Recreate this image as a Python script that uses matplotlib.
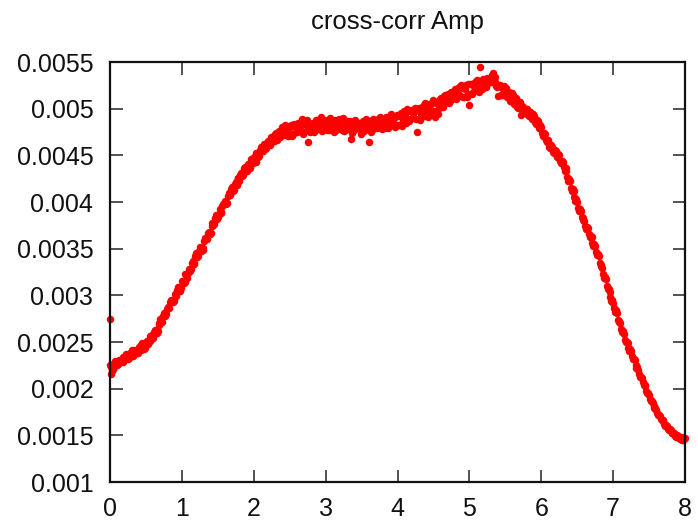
import matplotlib
matplotlib.use("Agg")
import matplotlib.pyplot as plt

# ---- data ----
# first sweep of samples
x_vals = [
    0.000, 0.025, 0.050, 0.075, 0.100, 0.125, 0.150, 0.175,
    0.200, 0.225, 0.250, 0.275, 0.300, 0.325, 0.350, 0.375,
    0.400, 0.425, 0.450, 0.475, 0.500, 0.525, 0.550, 0.575,
    0.600, 0.625, 0.650, 0.675, 0.700, 0.725, 0.750, 0.775,
    0.800, 0.825, 0.850, 0.875, 0.900, 0.925, 0.950, 0.975,
    1.000, 1.025, 1.050, 1.075, 1.100, 1.125, 1.150, 1.175,
    1.200, 1.225, 1.250, 1.275, 1.300, 1.325, 1.350, 1.375,
    1.400, 1.425, 1.450, 1.475, 1.500, 1.525, 1.550, 1.575,
    1.600, 1.625, 1.650, 1.675, 1.700, 1.725, 1.750, 1.775,
    1.800, 1.825, 1.850, 1.875, 1.900, 1.925, 1.950, 1.975,
    2.000, 2.025, 2.050, 2.075, 2.100, 2.125, 2.150, 2.175,
    2.200, 2.225, 2.250, 2.275, 2.300, 2.325, 2.350, 2.375,
    2.400, 2.425, 2.450, 2.475, 2.500, 2.525, 2.550, 2.575,
    2.600, 2.625, 2.650, 2.675, 2.700, 2.725, 2.750, 2.775,
    2.800, 2.825, 2.850, 2.875, 2.900, 2.925, 2.950, 2.975,
    3.000, 3.025, 3.050, 3.075, 3.100, 3.125, 3.150, 3.175,
    3.200, 3.225, 3.250, 3.275, 3.300, 3.325, 3.350, 3.375,
    3.400, 3.425, 3.450, 3.475, 3.500, 3.525, 3.550, 3.575,
    3.600, 3.625, 3.650, 3.675, 3.700, 3.725, 3.750, 3.775,
    3.800, 3.825, 3.850, 3.875, 3.900, 3.925, 3.950, 3.975,
    4.000, 4.025, 4.050, 4.075, 4.100, 4.125, 4.150, 4.175,
    4.200, 4.225, 4.250, 4.275, 4.300, 4.325, 4.350, 4.375,
    4.400, 4.425, 4.450, 4.475, 4.500, 4.525, 4.550, 4.575,
    4.600, 4.625, 4.650, 4.675, 4.700, 4.725, 4.750, 4.775,
    4.800, 4.825, 4.850, 4.875, 4.900, 4.925, 4.950, 4.975,
    5.000, 5.025, 5.050, 5.075, 5.100, 5.125, 5.150, 5.175,
    5.200, 5.225, 5.250, 5.275, 5.300, 5.325, 5.350, 5.375,
    5.400, 5.425, 5.450, 5.475, 5.500, 5.525, 5.550, 5.575,
    5.600, 5.625, 5.650, 5.675, 5.700, 5.725, 5.750, 5.775,
    5.800, 5.825, 5.850, 5.875, 5.900, 5.925, 5.950, 5.975,
    6.000, 6.025, 6.050, 6.075, 6.100, 6.125, 6.150, 6.175,
    6.200, 6.225, 6.250, 6.275, 6.300, 6.325, 6.350, 6.375,
    6.400, 6.425, 6.450, 6.475, 6.500, 6.525, 6.550, 6.575,
    6.600, 6.625, 6.650, 6.675, 6.700, 6.725, 6.750, 6.775,
    6.800, 6.825, 6.850, 6.875, 6.900, 6.925, 6.950, 6.975,
    7.000, 7.025, 7.050, 7.075, 7.100, 7.125, 7.150, 7.175,
    7.200, 7.225, 7.250, 7.275, 7.300, 7.325, 7.350, 7.375,
    7.400, 7.425, 7.450, 7.475, 7.500, 7.525, 7.550, 7.575,
    7.600, 7.625, 7.650, 7.675, 7.700, 7.725, 7.750, 7.775,
    7.800, 7.825, 7.850, 7.875, 7.900, 7.925, 7.950, 7.975,
    8.000, 0.000, 0.010,
]

amp_vals = [
    0.00225, 0.00219, 0.00223, 0.00230, 0.00225, 0.00231, 0.00229, 0.00234,
    0.00231, 0.00237, 0.00232, 0.00238, 0.00241, 0.00235, 0.00240, 0.00238,
    0.00245, 0.00241, 0.00249, 0.00243, 0.00250, 0.00248, 0.00256, 0.00253,
    0.00254, 0.00263, 0.00260, 0.00268, 0.00275, 0.00271, 0.00281, 0.00280,
    0.00288, 0.00286, 0.00295, 0.00293, 0.00301, 0.00299, 0.00309, 0.00305,
    0.00315, 0.00313, 0.00323, 0.00319, 0.00328, 0.00328, 0.00337, 0.00334,
    0.00345, 0.00342, 0.00352, 0.00349, 0.00351, 0.00361, 0.00360, 0.00368,
    0.00367, 0.00377, 0.00376, 0.00386, 0.00384, 0.00392, 0.00389, 0.00398,
    0.00401, 0.00399, 0.00410, 0.00407, 0.00416, 0.00413, 0.00421, 0.00426,
    0.00423, 0.00431, 0.00429, 0.00437, 0.00433, 0.00441, 0.00436, 0.00445,
    0.00448, 0.00443, 0.00452, 0.00449, 0.00459, 0.00455, 0.00462, 0.00458,
    0.00465, 0.00461, 0.00470, 0.00465, 0.00473, 0.00466, 0.00476, 0.00472,
    0.00480, 0.00472, 0.00479, 0.00471, 0.00480, 0.00483, 0.00473, 0.00482,
    0.00475, 0.00485, 0.00477, 0.00489, 0.00475, 0.00483, 0.00464, 0.00485,
    0.00476, 0.00485, 0.00479, 0.00488, 0.00478, 0.00485, 0.00476, 0.00488,
    0.00480, 0.00488, 0.00477, 0.00486, 0.00481, 0.00488, 0.00477, 0.00484,
    0.00486, 0.00477, 0.00484, 0.00477, 0.00487, 0.00478, 0.00468, 0.00485,
    0.00477, 0.00486, 0.00479, 0.00484, 0.00475, 0.00487, 0.00478, 0.00483,
    0.00464, 0.00485, 0.00477, 0.00487, 0.00480, 0.00489, 0.00480, 0.00485,
    0.00487, 0.00479, 0.00490, 0.00482, 0.00492, 0.00483, 0.00490, 0.00482,
    0.00492, 0.00483, 0.00495, 0.00487, 0.00494, 0.00485, 0.00497, 0.00489,
    0.00499, 0.00490, 0.00497, 0.00475, 0.00501, 0.00494, 0.00503, 0.00492,
    0.00501, 0.00491, 0.00504, 0.00496, 0.00508, 0.00491, 0.00507, 0.00501,
    0.00511, 0.00504, 0.00514, 0.00507, 0.00516, 0.00508, 0.00517, 0.00512,
    0.00521, 0.00512, 0.00523, 0.00514, 0.00522, 0.00513, 0.00525, 0.00516,
    0.00504, 0.00526, 0.00518, 0.00529, 0.00520, 0.00528, 0.00545, 0.00521,
    0.00529, 0.00523, 0.00533, 0.00533, 0.00529, 0.00538, 0.00529, 0.00524,
    0.00514, 0.00525, 0.00515, 0.00524, 0.00521, 0.00512, 0.00518, 0.00508,
    0.00515, 0.00505, 0.00511, 0.00501, 0.00507, 0.00493, 0.00502, 0.00495,
    0.00500, 0.00492, 0.00496, 0.00489, 0.00492, 0.00484, 0.00487, 0.00479,
    0.00480, 0.00471, 0.00473, 0.00464, 0.00465, 0.00458, 0.00459, 0.00453,
    0.00455, 0.00448, 0.00450, 0.00442, 0.00443, 0.00433, 0.00433, 0.00423,
    0.00422, 0.00412, 0.00412, 0.00401, 0.00400, 0.00390, 0.00390, 0.00381,
    0.00380, 0.00371, 0.00372, 0.00362, 0.00362, 0.00353, 0.00353, 0.00343,
    0.00342, 0.00331, 0.00329, 0.00319, 0.00318, 0.00307, 0.00304, 0.00294,
    0.00292, 0.00282, 0.00281, 0.00271, 0.00270, 0.00261, 0.00259, 0.00250,
    0.00249, 0.00240, 0.00240, 0.00232, 0.00231, 0.00222, 0.00220, 0.00212,
    0.00211, 0.00204, 0.00203, 0.00195, 0.00193, 0.00187, 0.00185, 0.00179,
    0.00177, 0.00172, 0.00171, 0.00166, 0.00165, 0.00160, 0.00160, 0.00156,
    0.00156, 0.00152, 0.00152, 0.00148, 0.00149, 0.00146, 0.00147, 0.00145,
    0.00147, 0.00275, 0.00216,
]

# second, interleaved sweep of samples
x_vals_b = [
    0.0125, 0.0375, 0.0625, 0.0875, 0.1125, 0.1375, 0.1625, 0.1875,
    0.2125, 0.2375, 0.2625, 0.2875, 0.3125, 0.3375, 0.3625, 0.3875,
    0.4125, 0.4375, 0.4625, 0.4875, 0.5125, 0.5375, 0.5625, 0.5875,
    0.6125, 0.6375, 0.6625, 0.6875, 0.7125, 0.7375, 0.7625, 0.7875,
    0.8125, 0.8375, 0.8625, 0.8875, 0.9125, 0.9375, 0.9625, 0.9875,
    1.0125, 1.0375, 1.0625, 1.0875, 1.1125, 1.1375, 1.1625, 1.1875,
    1.2125, 1.2375, 1.2625, 1.2875, 1.3125, 1.3375, 1.3625, 1.3875,
    1.4125, 1.4375, 1.4625, 1.4875, 1.5125, 1.5375, 1.5625, 1.5875,
    1.6125, 1.6375, 1.6625, 1.6875, 1.7125, 1.7375, 1.7625, 1.7875,
    1.8125, 1.8375, 1.8625, 1.8875, 1.9125, 1.9375, 1.9625, 1.9875,
    2.0125, 2.0375, 2.0625, 2.0875, 2.1125, 2.1375, 2.1625, 2.1875,
    2.2125, 2.2375, 2.2625, 2.2875, 2.3125, 2.3375, 2.3625, 2.3875,
    2.4125, 2.4375, 2.4625, 2.4875, 2.5125, 2.5375, 2.5625, 2.5875,
    2.6125, 2.6375, 2.6625, 2.6875, 2.7125, 2.7375, 2.7625, 2.7875,
    2.8125, 2.8375, 2.8625, 2.8875, 2.9125, 2.9375, 2.9625, 2.9875,
    3.0125, 3.0375, 3.0625, 3.0875, 3.1125, 3.1375, 3.1625, 3.1875,
    3.2125, 3.2375, 3.2625, 3.2875, 3.3125, 3.3375, 3.3625, 3.3875,
    3.4125, 3.4375, 3.4625, 3.4875, 3.5125, 3.5375, 3.5625, 3.5875,
    3.6125, 3.6375, 3.6625, 3.6875, 3.7125, 3.7375, 3.7625, 3.7875,
    3.8125, 3.8375, 3.8625, 3.8875, 3.9125, 3.9375, 3.9625, 3.9875,
    4.0125, 4.0375, 4.0625, 4.0875, 4.1125, 4.1375, 4.1625, 4.1875,
    4.2125, 4.2375, 4.2625, 4.2875, 4.3125, 4.3375, 4.3625, 4.3875,
    4.4125, 4.4375, 4.4625, 4.4875, 4.5125, 4.5375, 4.5625, 4.5875,
    4.6125, 4.6375, 4.6625, 4.6875, 4.7125, 4.7375, 4.7625, 4.7875,
    4.8125, 4.8375, 4.8625, 4.8875, 4.9125, 4.9375, 4.9625, 4.9875,
    5.0125, 5.0375, 5.0625, 5.0875, 5.1125, 5.1375, 5.1625, 5.1875,
    5.2125, 5.2375, 5.2625, 5.2875, 5.3125, 5.3375, 5.3625, 5.3875,
    5.4125, 5.4375, 5.4625, 5.4875, 5.5125, 5.5375, 5.5625, 5.5875,
    5.6125, 5.6375, 5.6625, 5.6875, 5.7125, 5.7375, 5.7625, 5.7875,
    5.8125, 5.8375, 5.8625, 5.8875, 5.9125, 5.9375, 5.9625, 5.9875,
    6.0125, 6.0375, 6.0625, 6.0875, 6.1125, 6.1375, 6.1625, 6.1875,
    6.2125, 6.2375, 6.2625, 6.2875, 6.3125, 6.3375, 6.3625, 6.3875,
    6.4125, 6.4375, 6.4625, 6.4875, 6.5125, 6.5375, 6.5625, 6.5875,
    6.6125, 6.6375, 6.6625, 6.6875, 6.7125, 6.7375, 6.7625, 6.7875,
    6.8125, 6.8375, 6.8625, 6.8875, 6.9125, 6.9375, 6.9625, 6.9875,
    7.0125, 7.0375, 7.0625, 7.0875, 7.1125, 7.1375, 7.1625, 7.1875,
    7.2125, 7.2375, 7.2625, 7.2875, 7.3125, 7.3375, 7.3625, 7.3875,
    7.4125, 7.4375, 7.4625, 7.4875, 7.5125, 7.5375, 7.5625, 7.5875,
    7.6125, 7.6375, 7.6625, 7.6875, 7.7125, 7.7375, 7.7625, 7.7875,
    7.8125, 7.8375, 7.8625, 7.8875, 7.9125, 7.9375, 7.9625, 7.9875,
]

amp_vals_b = [
    0.00223, 0.00221, 0.00227, 0.00229, 0.00226, 0.00231, 0.00230, 0.00229,
    0.00235, 0.00234, 0.00233, 0.00237, 0.00236, 0.00241, 0.00241, 0.00238,
    0.00242, 0.00247, 0.00246, 0.00244, 0.00251, 0.00252, 0.00251, 0.00258,
    0.00261, 0.00260, 0.00262, 0.00270, 0.00272, 0.00278, 0.00278, 0.00285,
    0.00286, 0.00293, 0.00294, 0.00294, 0.00301, 0.00306, 0.00306, 0.00308,
    0.00315, 0.00314, 0.00323, 0.00324, 0.00326, 0.00335, 0.00335, 0.00342,
    0.00341, 0.00348, 0.00348, 0.00349, 0.00358, 0.00360, 0.00367, 0.00366,
    0.00374, 0.00375, 0.00383, 0.00382, 0.00387, 0.00388, 0.00396, 0.00398,
    0.00398, 0.00406, 0.00408, 0.00414, 0.00412, 0.00419, 0.00418, 0.00426,
    0.00429, 0.00428, 0.00436, 0.00435, 0.00434, 0.00441, 0.00446, 0.00442,
    0.00446, 0.00452, 0.00448, 0.00456, 0.00455, 0.00462, 0.00457, 0.00463,
    0.00462, 0.00470, 0.00467, 0.00465, 0.00474, 0.00473, 0.00470, 0.00480,
    0.00474, 0.00483, 0.00478, 0.00473, 0.00481, 0.00471, 0.00484, 0.00479,
    0.00485, 0.00477, 0.00482, 0.00473, 0.00484, 0.00488, 0.00479, 0.00475,
    0.00483, 0.00475, 0.00488, 0.00482, 0.00478, 0.00491, 0.00481, 0.00487,
    0.00477, 0.00485, 0.00490, 0.00480, 0.00475, 0.00487, 0.00483, 0.00489,
    0.00483, 0.00490, 0.00476, 0.00485, 0.00479, 0.00487, 0.00474, 0.00480,
    0.00488, 0.00479, 0.00485, 0.00473, 0.00482, 0.00476, 0.00489, 0.00478,
    0.00484, 0.00475, 0.00489, 0.00482, 0.00479, 0.00485, 0.00491, 0.00478,
    0.00481, 0.00491, 0.00479, 0.00488, 0.00494, 0.00485, 0.00480, 0.00493,
    0.00483, 0.00492, 0.00481, 0.00497, 0.00490, 0.00500, 0.00487, 0.00497,
    0.00491, 0.00501, 0.00489, 0.00499, 0.00488, 0.00501, 0.00496, 0.00506,
    0.00495, 0.00505, 0.00498, 0.00509, 0.00497, 0.00506, 0.00494, 0.00510,
    0.00510, 0.00502, 0.00515, 0.00509, 0.00506, 0.00518, 0.00511, 0.00519,
    0.00510, 0.00520, 0.00515, 0.00525, 0.00513, 0.00521, 0.00512, 0.00526,
    0.00526, 0.00516, 0.00524, 0.00520, 0.00531, 0.00518, 0.00529, 0.00532,
    0.00523, 0.00531, 0.00527, 0.00533, 0.00536, 0.00529, 0.00534, 0.00523,
    0.00525, 0.00515, 0.00521, 0.00515, 0.00522, 0.00514, 0.00508, 0.00517,
    0.00508, 0.00511, 0.00502, 0.00507, 0.00500, 0.00503, 0.00496, 0.00500,
    0.00493, 0.00496, 0.00491, 0.00494, 0.00486, 0.00488, 0.00481, 0.00482,
    0.00474, 0.00474, 0.00466, 0.00466, 0.00459, 0.00461, 0.00454, 0.00456,
    0.00450, 0.00451, 0.00444, 0.00444, 0.00437, 0.00436, 0.00427, 0.00425,
    0.00415, 0.00414, 0.00405, 0.00403, 0.00394, 0.00392, 0.00384, 0.00383,
    0.00374, 0.00373, 0.00366, 0.00364, 0.00356, 0.00355, 0.00346, 0.00344,
    0.00335, 0.00333, 0.00323, 0.00320, 0.00310, 0.00307, 0.00298, 0.00295,
    0.00286, 0.00284, 0.00274, 0.00272, 0.00264, 0.00262, 0.00252, 0.00250,
    0.00244, 0.00242, 0.00235, 0.00232, 0.00225, 0.00223, 0.00216, 0.00213,
    0.00207, 0.00204, 0.00198, 0.00195, 0.00189, 0.00187, 0.00181, 0.00179,
    0.00174, 0.00172, 0.00168, 0.00166, 0.00162, 0.00161, 0.00157, 0.00157,
    0.00153, 0.00153, 0.00149, 0.00150, 0.00147, 0.00148, 0.00145, 0.00147,
]

x_ticks = [0, 1, 2, 3, 4, 5, 6, 7, 8]
x_tick_labels = ["0", "1", "2", "3", "4", "5", "6", "7", "8"]
y_ticks = [0.001, 0.0015, 0.002, 0.0025, 0.003, 0.0035, 0.004, 0.0045, 0.005, 0.0055]
y_tick_labels = ["0.001", "0.0015", "0.002", "0.0025", "0.003", "0.0035",
                 "0.004", "0.0045", "0.005", "0.0055"]
title_text = "cross-corr Amp"

# ---- drawing ----
plt.rcParams["font.family"] = ["Liberation Sans", "DejaVu Sans"]

fig = plt.figure(figsize=(6.98, 5.21), dpi=100)
ax = fig.add_axes([110 / 698, 1 - 482 / 521, 575 / 698, 420 / 521])

for xs, ys in ((x_vals, amp_vals), (x_vals_b, amp_vals_b)):
    ax.plot(xs, ys, linestyle="none", marker="o", markersize=5.4,
            markerfacecolor="#ff0000", markeredgewidth=0, clip_on=False)

ax.set_xlim(0, 8)
ax.set_ylim(0.001, 0.0055)
ax.set_xticks(x_ticks)
ax.set_xticklabels(x_tick_labels)
ax.set_yticks(y_ticks)
ax.set_yticklabels(y_tick_labels)

ax.tick_params(axis="both", which="both", direction="in", length=9,
               width=1.2, color="#333333", top=True, right=True,
               labelsize=18, labelcolor="#111111")
ax.tick_params(axis="y", pad=12)
ax.tick_params(axis="x", pad=11)

for sp in ax.spines.values():
    sp.set_linewidth(1.6)
    sp.set_color("#111111")

ax.set_title(title_text, fontsize=18.5, color="#111111", pad=24)

fig.savefig("out.png", dpi=100)
